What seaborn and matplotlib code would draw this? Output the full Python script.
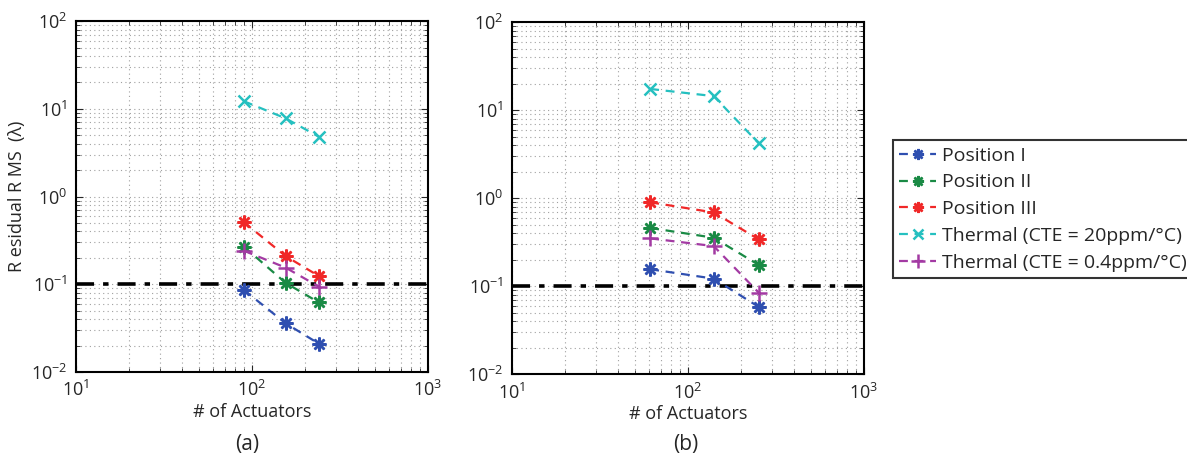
import matplotlib
matplotlib.use("Agg")
import matplotlib.pyplot as plt
import matplotlib.ticker as mticker
import seaborn as sns
import numpy as np

# Data
series_names = ["Position I", "Position II", "Position III",
                "Thermal (CTE = 20ppm/\u00b0C)", "Thermal (CTE = 0.4ppm/\u00b0C)"]

actuators_a = [90, 155, 240]
pos1_a = [0.086, 0.036, 0.021]
pos2_a = [0.268, 0.104, 0.062]
pos3_a = [0.51, 0.21, 0.124]
therm20_a = [12.2, 7.8, 4.8]
therm04_a = [0.241, 0.155, 0.094]

actuators_b = [61, 140, 253]
pos1_b = [0.156, 0.122, 0.058]
pos2_b = [0.46, 0.356, 0.174]
pos3_b = [0.90, 0.69, 0.34]
therm20_b = [17.5, 14.5, 4.2]
therm04_b = [0.35, 0.286, 0.084]

threshold = 0.1

colors = ["#2F4FB0", "#1A8A45", "#F02828", "#25C0C0", "#A33AA3"]
asterisk = (8, 2, 0)
markers = [asterisk, asterisk, asterisk, "x", "+"]
marker_sizes = [10, 10, 10, 9, 12]

sns.set_style("ticks")
plt.rcParams["font.family"] = ["Open Sans", "DejaVu Sans"]
plt.rcParams["mathtext.fontset"] = "custom"
plt.rcParams["mathtext.rm"] = "Open Sans"
plt.rcParams["mathtext.it"] = "Open Sans"

fig = plt.figure(figsize=(11.87, 4.66), dpi=100)
ax_a = fig.add_axes([0.064, 0.2017, 0.2966, 0.753])
ax_b = fig.add_axes([0.4313, 0.197, 0.2966, 0.755])


def fmt(v, pos):
    e = int(round(np.log10(v)))
    return r"$\mathregular{10^{%d}}$" % e


panels = [
    (ax_a, actuators_a, [pos1_a, pos2_a, pos3_a, therm20_a, therm04_a]),
    (ax_b, actuators_b, [pos1_b, pos2_b, pos3_b, therm20_b, therm04_b]),
]

for ax, x, values in panels:
    for name, vals, c, m, ms in zip(series_names, values, colors, markers, marker_sizes):
        sns.lineplot(x=x, y=vals, ax=ax, color=c, marker=m, markersize=ms,
                     markeredgewidth=1.8, markeredgecolor=c, markerfacecolor=c,
                     linestyle=(0, (4, 3)), linewidth=1.6, label=name, zorder=3)
    ax.axhline(threshold, color="black", linestyle=(0, (5, 2.5, 1.5, 2.5)),
               linewidth=2.6, zorder=2)
    ax.set_xscale("log")
    ax.set_yscale("log")
    ax.set_xlim(10, 1000)
    ax.set_ylim(0.01, 100)
    ax.xaxis.set_major_formatter(mticker.FuncFormatter(fmt))
    ax.yaxis.set_major_formatter(mticker.FuncFormatter(fmt))
    ax.xaxis.set_minor_formatter(mticker.NullFormatter())
    ax.yaxis.set_minor_formatter(mticker.NullFormatter())
    ax.grid(True, which="both", color="#a0a0a0", linestyle=(0, (1, 3)), linewidth=0.8)
    ax.tick_params(which="both", direction="in", top=True, right=True, labelsize=13, pad=6)
    ax.tick_params(which="major", length=5)
    ax.tick_params(which="minor", length=3)
    for s in ax.spines.values():
        s.set_linewidth(1.5)
        s.set_color("black")
    ax.set_xlabel("# of Actuators", fontsize=13, labelpad=2)
    ax.set_ylabel("")

ax_a.set_ylabel("R esidual R MS  (\u03bb)", fontsize=13, labelpad=4)

handles, labels = ax_a.get_legend_handles_labels()
ax_a.get_legend().remove()
ax_b.get_legend().remove()
leg = fig.legend(handles, labels, loc="upper left", bbox_to_anchor=(0.752, 0.70),
                 frameon=True, fancybox=False, fontsize=14, handlelength=1.9,
                 handletextpad=0.3, borderpad=0.35, labelspacing=0.45,
                 borderaxespad=0, markerscale=0.8)
leg.get_frame().set_edgecolor("black")
leg.get_frame().set_linewidth(1.5)

fig.text(0.208, 0.035, "(a)", fontsize=15, ha="center")
fig.text(0.578, 0.035, "(b)", fontsize=15, ha="center")

fig.savefig("out.png", dpi=100, facecolor="white")
